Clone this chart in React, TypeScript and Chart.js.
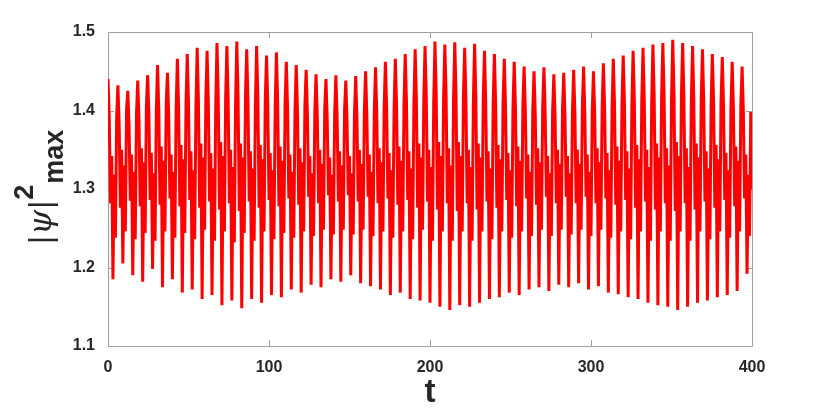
import { useEffect, useRef } from "react";
import { Chart, registerables } from "chart.js";

Chart.register(...registerables);

const T_START = 0;
const T_END = 400;
const X_TICKS = [0, 100, 200, 300, 400];
const Y_TICKS = [1.1, 1.2, 1.3, 1.4, 1.5];
const Y_MIN = 1.1;
const Y_MAX = 1.5;

const psiMax = [
  1.440, 1.392, 1.282, 1.342, 1.185, 1.318, 1.238, 1.392,
  1.432, 1.384, 1.276, 1.350, 1.205, 1.330, 1.246, 1.402,
  1.425, 1.380, 1.285, 1.344, 1.190, 1.322, 1.236, 1.395,
  1.438, 1.390, 1.278, 1.352, 1.182, 1.334, 1.244, 1.405,
  1.445, 1.396, 1.286, 1.346, 1.198, 1.320, 1.234, 1.398,
  1.458, 1.400, 1.280, 1.354, 1.175, 1.336, 1.246, 1.408,
  1.448, 1.394, 1.288, 1.344, 1.185, 1.322, 1.238, 1.400,
  1.466, 1.404, 1.278, 1.356, 1.168, 1.338, 1.244, 1.410,
  1.472, 1.408, 1.286, 1.348, 1.172, 1.324, 1.236, 1.404,
  1.480, 1.412, 1.276, 1.358, 1.160, 1.340, 1.248, 1.414,
  1.476, 1.410, 1.284, 1.346, 1.165, 1.326, 1.234, 1.406,
  1.486, 1.418, 1.274, 1.360, 1.152, 1.342, 1.246, 1.416,
  1.482, 1.414, 1.282, 1.350, 1.158, 1.328, 1.232, 1.408,
  1.488, 1.420, 1.272, 1.358, 1.148, 1.340, 1.244, 1.418,
  1.478, 1.412, 1.284, 1.348, 1.160, 1.326, 1.234, 1.406,
  1.482, 1.416, 1.276, 1.356, 1.155, 1.338, 1.246, 1.414,
  1.470, 1.408, 1.286, 1.346, 1.165, 1.324, 1.236, 1.404,
  1.474, 1.410, 1.278, 1.354, 1.162, 1.336, 1.244, 1.410,
  1.462, 1.402, 1.288, 1.344, 1.172, 1.322, 1.238, 1.400,
  1.458, 1.400, 1.280, 1.352, 1.168, 1.334, 1.246, 1.406,
  1.452, 1.396, 1.290, 1.342, 1.178, 1.320, 1.240, 1.398,
  1.446, 1.392, 1.282, 1.350, 1.175, 1.332, 1.248, 1.402,
  1.440, 1.388, 1.292, 1.340, 1.185, 1.318, 1.242, 1.394,
  1.445, 1.392, 1.284, 1.348, 1.182, 1.330, 1.248, 1.400,
  1.438, 1.386, 1.292, 1.342, 1.190, 1.320, 1.242, 1.394,
  1.444, 1.390, 1.284, 1.350, 1.180, 1.332, 1.248, 1.400,
  1.450, 1.394, 1.290, 1.344, 1.176, 1.322, 1.240, 1.398,
  1.455, 1.398, 1.282, 1.352, 1.172, 1.334, 1.246, 1.404,
  1.462, 1.402, 1.288, 1.346, 1.165, 1.324, 1.238, 1.402,
  1.466, 1.406, 1.280, 1.354, 1.168, 1.336, 1.246, 1.408,
  1.472, 1.410, 1.286, 1.348, 1.160, 1.326, 1.236, 1.406,
  1.478, 1.414, 1.276, 1.358, 1.158, 1.340, 1.248, 1.414,
  1.482, 1.416, 1.284, 1.350, 1.155, 1.328, 1.234, 1.410,
  1.488, 1.420, 1.274, 1.360, 1.150, 1.342, 1.246, 1.418,
  1.484, 1.418, 1.282, 1.352, 1.146, 1.330, 1.234, 1.412,
  1.487, 1.420, 1.272, 1.360, 1.152, 1.342, 1.246, 1.418,
  1.480, 1.414, 1.282, 1.350, 1.150, 1.328, 1.234, 1.410,
  1.485, 1.418, 1.274, 1.358, 1.155, 1.340, 1.246, 1.416,
  1.476, 1.410, 1.284, 1.348, 1.160, 1.326, 1.236, 1.406,
  1.472, 1.408, 1.276, 1.356, 1.162, 1.338, 1.246, 1.410,
  1.466, 1.404, 1.286, 1.346, 1.168, 1.324, 1.238, 1.402,
  1.462, 1.402, 1.278, 1.354, 1.165, 1.336, 1.246, 1.406,
  1.456, 1.398, 1.288, 1.344, 1.172, 1.322, 1.240, 1.400,
  1.450, 1.394, 1.280, 1.352, 1.175, 1.334, 1.248, 1.404,
  1.455, 1.396, 1.290, 1.342, 1.170, 1.320, 1.240, 1.398,
  1.446, 1.392, 1.282, 1.350, 1.178, 1.332, 1.248, 1.402,
  1.448, 1.392, 1.290, 1.342, 1.175, 1.320, 1.242, 1.396,
  1.452, 1.396, 1.282, 1.350, 1.180, 1.332, 1.248, 1.402,
  1.456, 1.398, 1.290, 1.344, 1.172, 1.322, 1.240, 1.398,
  1.450, 1.394, 1.282, 1.352, 1.176, 1.334, 1.248, 1.404,
  1.460, 1.402, 1.288, 1.346, 1.168, 1.324, 1.238, 1.402,
  1.466, 1.406, 1.280, 1.354, 1.166, 1.336, 1.246, 1.408,
  1.470, 1.408, 1.286, 1.348, 1.162, 1.326, 1.236, 1.406,
  1.476, 1.412, 1.276, 1.356, 1.160, 1.338, 1.246, 1.412,
  1.480, 1.414, 1.284, 1.350, 1.155, 1.328, 1.234, 1.410,
  1.484, 1.418, 1.274, 1.358, 1.152, 1.340, 1.246, 1.416,
  1.486, 1.420, 1.282, 1.352, 1.150, 1.330, 1.234, 1.412,
  1.490, 1.422, 1.272, 1.360, 1.146, 1.342, 1.246, 1.418,
  1.486, 1.418, 1.282, 1.352, 1.150, 1.328, 1.234, 1.412,
  1.482, 1.416, 1.274, 1.358, 1.155, 1.340, 1.246, 1.414,
  1.478, 1.412, 1.284, 1.348, 1.158, 1.326, 1.236, 1.408,
  1.472, 1.410, 1.276, 1.356, 1.162, 1.338, 1.246, 1.410,
  1.468, 1.406, 1.286, 1.346, 1.165, 1.324, 1.238, 1.404,
  1.462, 1.402, 1.278, 1.354, 1.170, 1.336, 1.246, 1.406,
  1.456, 1.398, 1.288, 1.344, 1.192, 1.318, 1.240, 1.398,
  1.300,
];

const LINE_COLOR = "#ff0000";
const AXIS_COLOR = "#a0a0a0";
const TEXT_COLOR = "#262626";

const frameAndTitle = {
  id: "frameAndTitle",
  beforeDatasetsDraw(chart: any) {
    const { ctx, chartArea: a, scales } = chart;
    const xs = scales.x;
    const ys = scales.y;
    ctx.save();
    ctx.strokeStyle = AXIS_COLOR;
    ctx.lineWidth = 1;
    ctx.beginPath();
    ctx.rect(Math.round(a.left) + 0.5, Math.round(a.top) + 0.5, Math.round(a.right - a.left), Math.round(a.bottom - a.top));
    ctx.stroke();
    const tl = 6;
    ctx.beginPath();
    X_TICKS.forEach((v) => {
      const px = Math.round(xs.getPixelForValue(v)) + 0.5;
      ctx.moveTo(px, a.bottom);
      ctx.lineTo(px, a.bottom - tl);
      ctx.moveTo(px, a.top);
      ctx.lineTo(px, a.top + tl);
    });
    Y_TICKS.forEach((v) => {
      const py = Math.round(ys.getPixelForValue(v)) + 0.5;
      ctx.moveTo(a.left, py);
      ctx.lineTo(a.left + tl, py);
      ctx.moveTo(a.right, py);
      ctx.lineTo(a.right - tl, py);
    });
    ctx.stroke();
    ctx.restore();
  },
  afterDraw(chart: any) {
    const { ctx } = chart;
    ctx.save();
    ctx.fillStyle = TEXT_COLOR;
    ctx.translate(51, 244);
    ctx.rotate(-Math.PI / 2);
    ctx.textBaseline = "alphabetic";
    ctx.textAlign = "left";
    let u = 0;
    ctx.font = "31px 'Liberation Sans'";
    ctx.fillText("|", u, 0);
    u += ctx.measureText("|").width + 1;
    ctx.font = "italic 32px 'DejaVu Serif'";
    ctx.fillText("\u03c8", u, 0);
    u += ctx.measureText("\u03c8").width + 1;
    ctx.font = "31px 'Liberation Sans'";
    ctx.fillText("|", u, 0);
    u += ctx.measureText("|").width + 1;
    ctx.font = "bold 27px 'Liberation Sans'";
    ctx.fillText("2", u, -18);
    u += ctx.measureText("2").width + 1;
    ctx.fillText("max", u, 12);
    ctx.restore();
  },
};

export default function App() {
  const ref = useRef<HTMLCanvasElement>(null);
  useEffect(() => {
    const n = psiMax.length;
    const dt = (T_END - T_START) / (n - 1);
    const points = psiMax.map((v, i) => ({ x: T_START + i * dt, y: v }));
    const chart = new Chart(ref.current as HTMLCanvasElement, {
      type: "line",
      data: {
        datasets: [
          {
            data: points,
            borderColor: LINE_COLOR,
            borderWidth: 3,
            pointRadius: 0,
            tension: 0,
            fill: false,
          },
        ],
      },
      options: {
        animation: false,
        responsive: false,
        devicePixelRatio: 1,
        layout: { padding: { left: 0, top: 32, right: 78, bottom: 0 } },
        plugins: { legend: { display: false }, tooltip: { enabled: false } },
        scales: {
          x: {
            type: "linear",
            min: T_START,
            max: T_END,
            afterBuildTicks: (s: any) => {
              s.ticks = X_TICKS.map((v) => ({ value: v }));
            },
            afterFit: (s: any) => {
              s.height = 67;
            },
            grid: { display: false, drawTicks: false },
            border: { display: false },
            ticks: {
              color: TEXT_COLOR,
              font: { family: "'Liberation Sans'", size: 16, weight: "bold" },
              padding: 12,
              maxRotation: 0,
            },
            title: {
              display: true,
              text: "t",
              color: TEXT_COLOR,
              font: { family: "'Liberation Sans'", size: 33, weight: "bold" },
              padding: { top: 0, bottom: 0 },
            },
          },
          y: {
            type: "linear",
            min: Y_MIN,
            max: Y_MAX,
            afterBuildTicks: (s: any) => {
              s.ticks = Y_TICKS.map((v) => ({ value: v }));
            },
            afterFit: (s: any) => {
              s.width = 108;
            },
            grid: { display: false, drawTicks: false },
            border: { display: false },
            ticks: {
              color: TEXT_COLOR,
              font: { family: "'Liberation Sans'", size: 16, weight: "bold" },
              padding: 13,
              callback: (v: any) => Number(v).toFixed(1),
            },
          },
        },
      },
      plugins: [frameAndTitle],
    });
    return () => chart.destroy();
  }, []);
  return (
    <div style={{ position: "fixed", left: 0, top: 0, width: 830, height: 413, background: "#fff" }}>
      <canvas ref={ref} width={830} height={413} style={{ width: 830, height: 413, display: "block" }} />
    </div>
  );
}
